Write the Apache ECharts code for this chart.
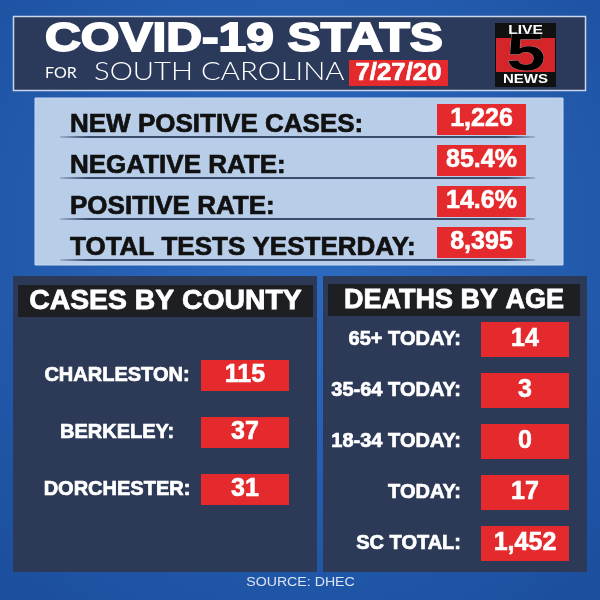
<!DOCTYPE html>
<html>
<head>
<meta charset="UTF-8">
<script src="https://cdn.jsdelivr.net/npm/echarts@6/dist/echarts.min.js"></script>
<style>
  html, body { margin: 0; padding: 0; }
  #main { width: 600px; height: 600px; }
</style>
</head>
<body>
<div id="main"></div>
<script>
// daily numbers
var statNames = ['NEW POSITIVE CASES:', 'NEGATIVE RATE:', 'POSITIVE RATE:', 'TOTAL TESTS YESTERDAY:'];
var statValues = [1226, 85.4, 14.6, 8395];
var statUnits = ['', '%', '%', ''];

var countyNames = ['CHARLESTON:', 'BERKELEY:', 'DORCHESTER:'];
var countyCases = [115, 37, 31];

var ageNames = ['65+ TODAY:', '35-64 TODAY:', '18-34 TODAY:', 'TODAY:', 'SC TOTAL:'];
var ageDeaths = [14, 3, 0, 17, 1452];

var RED = '#e42a2c';
var FONT = '"Liberation Sans", Arial, sans-serif';

function fmt(v, unit) {
    if (unit === '%') return v.toFixed(1) + '%';
    return v.toLocaleString('en-US');
}

var chart = echarts.init(document.getElementById('main'));

function rowAxis(idx, names, label) {
    return {
        type: 'category', gridIndex: idx, inverse: true, data: names,
        axisLine: { show: false }, axisTick: { show: false }, splitLine: { show: false },
        axisLabel: Object.assign({ fontFamily: FONT, fontWeight: 'bold', textBorderColor: label.color, textBorderWidth: 0.7 }, label)
    };
}
function colAxis(idx) {
    return { type: 'category', gridIndex: idx, data: ['v'], show: false };
}
function boxSeries(idx, values, size, offsetY, units) {
    return {
        type: 'scatter', xAxisIndex: idx, yAxisIndex: idx, clip: false,
        symbol: 'rect', symbolSize: size, symbolOffset: [0, offsetY],
        itemStyle: { color: RED, opacity: 1 },
        label: {
            show: true, position: 'inside', color: '#fff',
            fontFamily: FONT, fontWeight: 'bold', fontSize: 25,
            textBorderColor: '#fff', textBorderWidth: 0.6,
            formatter: function (p) { return fmt(p.value[2], units ? units[p.dataIndex] : ''); }
        },
        emphasis: { disabled: true },
        z: 5,
        data: values.map(function (v, i) { return [0, i, v]; })
    };
}

var option = {
    animation: false,
    grid: [
        { left: 437, top: 104, width: 89, height: 164 },
        { left: 201, top: 347, width: 88, height: 171 },
        { left: 481, top: 314, width: 88, height: 255 }
    ],
    xAxis: [colAxis(0), colAxis(1), colAxis(2)],
    yAxis: [
        rowAxis(0, statNames, { align: 'left', margin: 367, fontSize: 26, color: '#111' }),
        rowAxis(1, countyNames, { align: 'center', margin: 84, fontSize: 20, color: '#fff' }),
        rowAxis(2, ageNames, { align: 'right', margin: 20, fontSize: 20, color: '#fff' })
    ],
    series: [
        {
            // rule under each stat row
            type: 'scatter', xAxisIndex: 0, yAxisIndex: 0, clip: false,
            symbol: 'rect', symbolSize: [475, 2], symbolOffset: [-184, 12.5],
            itemStyle: {
                color: new echarts.graphic.LinearGradient(0, 0, 1, 0, [
                    { offset: 0, color: 'rgba(50,66,98,0.2)' },
                    { offset: 0.06, color: '#3a4b6b' },
                    { offset: 0.94, color: '#3a4b6b' },
                    { offset: 1, color: 'rgba(50,66,98,0.2)' }
                ]),
                opacity: 1
            },
            emphasis: { disabled: true },
            z: 3,
            data: statValues.map(function (v, i) { return [0, i]; })
        },
        boxSeries(0, statValues, [89, 31], -5, statUnits),
        boxSeries(1, countyCases, [88, 31], 0),
        boxSeries(2, ageDeaths, [88, 35], 0)
    ],
    graphic: [
        {
            type: 'rect', z: -10, shape: { x: 0, y: 0, width: 600, height: 600 },
            style: {
                fill: new echarts.graphic.RadialGradient(0.5, 0.4, 0.75, [
                    { offset: 0, color: '#2d6cc3' },
                    { offset: 1, color: '#1c4f9e' }
                ])
            }
        },
        // header
        { type: 'rect', shape: { x: 13.5, y: 16.5, width: 572, height: 74 },
          style: { fill: '#2b3a5b', stroke: '#c9d6ec', lineWidth: 1.5 } },
        { type: 'text', x: 45, y: 40, scaleX: 1.24,
          style: { text: 'COVID-19 STATS', x: 0, y: 0, fill: '#fff', stroke: '#fff', lineWidth: 1.8,
                   font: 'bold 40px ' + FONT, align: 'left', verticalAlign: 'middle' } },
        { type: 'text', x: 45, y: 73,
          style: { text: 'FOR', x: 0, y: 0, fill: '#fff', font: '16px Lato, "Open Sans", sans-serif',
                   align: 'left', verticalAlign: 'middle' } },
        { type: 'text', x: 94, y: 72, scaleX: 1.17,
          style: { text: 'SOUTH CAROLINA', x: 0, y: 0, fill: '#fff', font: '300 25px Lato, "Open Sans", sans-serif',
                   align: 'left', verticalAlign: 'middle' } },
        { type: 'rect', shape: { x: 349, y: 60, width: 99, height: 26 }, style: { fill: RED } },
        { type: 'text', x: 398.5, y: 74, scaleX: 1.12,
          style: { text: '7/27/20', x: 0, y: 0, fill: '#fff', stroke: '#fff', lineWidth: 0.6, font: 'bold 23px ' + FONT,
                   align: 'center', verticalAlign: 'middle' } },
        // logo
        { type: 'rect', shape: { x: 495, y: 23, width: 61, height: 64 }, style: { fill: '#111' } },
        { type: 'rect', shape: { x: 496, y: 38, width: 59, height: 34 }, style: { fill: '#d3252a' } },
        { type: 'text', x: 525.5, y: 31, scaleX: 1.3,
          style: { text: 'LIVE', x: 0, y: 0, fill: '#fff', font: 'bold 12px ' + FONT,
                   align: 'center', verticalAlign: 'middle' } },
        { type: 'text', x: 526, y: 56, scaleX: 1.35,
          style: { text: '5', x: 0, y: 0, font: 'bold 52px ' + FONT, align: 'center', verticalAlign: 'middle',
                   fill: new echarts.graphic.LinearGradient(0, 0, 0, 1, [
                       { offset: 0, color: '#ffffff' }, { offset: 1, color: '#c8c8c8' }]),
                   stroke: '#b0b0b0', lineWidth: 0.5 } },
        { type: 'text', x: 525.5, y: 80, scaleX: 1.25,
          style: { text: 'NEWS', x: 0, y: 0, fill: '#fff', font: 'bold 12px ' + FONT,
                   align: 'center', verticalAlign: 'middle' } },
        // light stats panel
        { type: 'rect', shape: { x: 35, y: 98, width: 528, height: 167 },
          style: { fill: '#b8cde7', stroke: '#c8daf0', lineWidth: 1 } },
        // lower panels
        { type: 'rect', shape: { x: 13, y: 276, width: 304, height: 296 }, style: { fill: '#2c3a58' } },
        { type: 'rect', shape: { x: 323, y: 276, width: 264, height: 296 }, style: { fill: '#2c3a58' } },
        { type: 'rect', shape: { x: 18, y: 285, width: 295, height: 32 }, style: { fill: '#1e1f22' } },
        { type: 'rect', shape: { x: 328, y: 284, width: 252, height: 32 }, style: { fill: '#1e1f22' } },
        { type: 'text', x: 165.5, y: 301.5, scaleX: 1.05,
          style: { text: 'CASES BY COUNTY', x: 0, y: 0, fill: '#fff', stroke: '#fff', lineWidth: 0.8,
                   font: 'bold 27px ' + FONT, align: 'center', verticalAlign: 'middle' } },
        { type: 'text', x: 454, y: 301,
          style: { text: 'DEATHS BY AGE', x: 0, y: 0, fill: '#fff', stroke: '#fff', lineWidth: 0.8,
                   font: 'bold 27px ' + FONT, align: 'center', verticalAlign: 'middle' } },
        { type: 'text', x: 300.5, y: 583, scaleX: 1.18,
          style: { text: 'SOURCE: DHEC', x: 0, y: 0, fill: '#dce4f1', font: '12px ' + FONT,
                   align: 'center', verticalAlign: 'middle' } }
    ]
};

chart.setOption(option);
</script>
</body>
</html>
